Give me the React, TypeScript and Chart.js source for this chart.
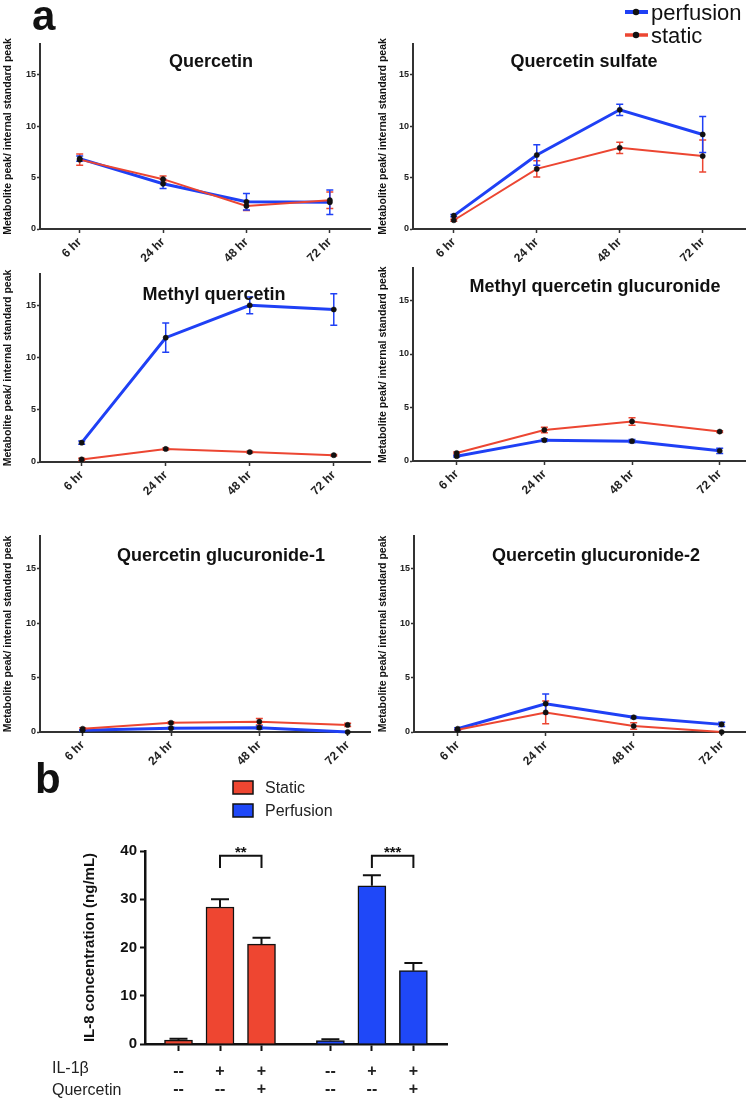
import React, { useEffect, useRef } from 'react';
import { Chart, registerables } from 'chart.js';

Chart.register(...registerables);

const FONT = '"Liberation Sans", Arial, Helvetica, sans-serif';
Chart.defaults.font.family = FONT;

const BLUE = '#1f40f5';
const RED = '#ec4632';
const BAR_RED = '#ee4631';
const BAR_BLUE = '#1f48f8';
const AXIS = '#333333';
const INK = '#111111';

// ---------- Panel a data ----------
const timeLabels = ['6 hr', '24 hr', '48 hr', '72 hr'];
const yTicksA = [0, 5, 10, 15];
const yAxisTitleA = 'Metabolite peak/ internal standard peak';
const seriesNames = ['perfusion', 'static'];

const quercetinPerfusion = [6.85, 4.4, 2.65, 2.6];
const quercetinPerfusionErr = [0.25, 0.45, 0.8, 1.2];
const quercetinStatic = [6.75, 4.85, 2.25, 2.8];
const quercetinStaticErr = [0.55, 0.3, 0.45, 0.8];

const sulfatePerfusion = [1.3, 7.2, 11.6, 9.2];
const sulfatePerfusionErr = [0.1, 1.0, 0.55, 1.75];
const sulfateStatic = [0.85, 5.85, 7.9, 7.1];
const sulfateStaticErr = [0.1, 0.8, 0.55, 1.55];

const methylPerfusion = [1.85, 11.9, 15.0, 14.6];
const methylPerfusionErr = [0.15, 1.4, 0.8, 1.5];
const methylStatic = [0.25, 1.25, 0.95, 0.65];
const methylStaticErr = [0.1, 0.1, 0.08, 0.08];

const methylGlucPerfusion = [0.45, 1.95, 1.85, 0.95];
const methylGlucPerfusionErr = [0.08, 0.12, 0.15, 0.25];
const methylGlucStatic = [0.75, 2.9, 3.7, 2.75];
const methylGlucStaticErr = [0.1, 0.25, 0.35, 0.08];

const gluc1Perfusion = [0.15, 0.35, 0.4, 0.0];
const gluc1PerfusionErr = [0.05, 0.08, 0.15, 0.0];
const gluc1Static = [0.3, 0.85, 0.95, 0.65];
const gluc1StaticErr = [0.1, 0.1, 0.3, 0.15];

const gluc2Perfusion = [0.3, 2.6, 1.35, 0.7];
const gluc2PerfusionErr = [0.1, 0.9, 0.1, 0.2];
const gluc2Static = [0.2, 1.8, 0.55, 0.0];
const gluc2StaticErr = [0.05, 1.05, 0.3, 0.0];

const panelTitles = [
  'Quercetin',
  'Quercetin sulfate',
  'Methyl quercetin',
  'Methyl quercetin glucuronide',
  'Quercetin glucuronide-1',
  'Quercetin glucuronide-2',
];

// ---------- Panel b data ----------
const barLegend = ['Static', 'Perfusion'];
const staticIL8 = [0.8, 28.4, 20.7];
const staticIL8Err = [0.3, 1.6, 1.3];
const perfusionIL8 = [0.7, 32.8, 15.2];
const perfusionIL8Err = [0.3, 2.2, 1.6];
const il1bRow = ['--', '+', '+', '--', '+', '+'];
const quercetinRow = ['--', '--', '+', '--', '--', '+'];
const rowHeaders = ['IL-1β', 'Quercetin'];
const yTicksB = [0, 10, 20, 30, 40];
const yAxisTitleB = 'IL-8 concentration (ng/mL)';
const sigPairs = [
  [1, 2],
  [4, 5],
];
const sigLabels = ['**', '***'];
const SIG_TOP = 39.0;
const SIG_BOTTOM = 36.5;

// ---------- layout (pixels) ----------
const panelData = [
  [quercetinPerfusion, quercetinPerfusionErr, quercetinStatic, quercetinStaticErr],
  [sulfatePerfusion, sulfatePerfusionErr, sulfateStatic, sulfateStaticErr],
  [methylPerfusion, methylPerfusionErr, methylStatic, methylStaticErr],
  [methylGlucPerfusion, methylGlucPerfusionErr, methylGlucStatic, methylGlucStaticErr],
  [gluc1Perfusion, gluc1PerfusionErr, gluc1Static, gluc1StaticErr],
  [gluc2Perfusion, gluc2PerfusionErr, gluc2Static, gluc2StaticErr],
];

type Layout = {
  left: number; top: number; width: number; height: number;
  axisL: number; axisR: number; tickPx: number[]; y0: number; yTop: number;
  titleX: number; titleBase: number;
};

const layouts: Layout[] = [
  { left: 0, top: 0, width: 375, height: 262, axisL: 40, axisR: 373, tickPx: [80, 163, 247, 332], y0: 229, yTop: 44, titleX: 211, titleBase: 67 },
  { left: 375, top: 0, width: 375, height: 262, axisL: 413, axisR: 747, tickPx: [454, 538, 621, 704], y0: 229, yTop: 44, titleX: 584, titleBase: 67 },
  { left: 0, top: 262, width: 375, height: 238, axisL: 40, axisR: 373, tickPx: [82, 167, 252, 336], y0: 462, yTop: 274, titleX: 214, titleBase: 300 },
  { left: 375, top: 262, width: 375, height: 238, axisL: 413, axisR: 748, tickPx: [457, 545, 633, 722], y0: 461, yTop: 265, titleX: 595, titleBase: 292 },
  { left: 0, top: 500, width: 375, height: 270, axisL: 40, axisR: 373, tickPx: [83, 173, 261, 350], y0: 732, yTop: 536, titleX: 221, titleBase: 561 },
  { left: 375, top: 500, width: 375, height: 270, axisL: 414, axisR: 748, tickPx: [458, 547, 636, 724], y0: 732, yTop: 536, titleX: 596, titleBase: 561 },
];

const Y_MAX_A = 18;

const BAR_LAYOUT = { left: 0, top: 745, width: 460, height: 355, axisL: 145, axisR: 447, y0: 1044, yTop: 851, firstBar: 178.5, slot: 41.5, groupGap: 3.66 };

// ---------- plugins ----------
function errorBarPlugin(capHalf: number, upperOnly: boolean, after: boolean, color?: string, width?: number) {
  const draw = (chart: any) => {
    const ctx = chart.ctx;
    const ys = chart.scales.y;
    chart.data.datasets.forEach((ds: any, i: number) => {
      const meta = chart.getDatasetMeta(i);
      const errs: number[] = ds.errors || [];
      meta.data.forEach((el: any, j: number) => {
        const e = errs[j] || 0;
        if (!e) return;
        const v = ds.data[j].y;
        const x = el.x;
        const yHi = ys.getPixelForValue(v + e);
        const yLo = upperOnly ? ys.getPixelForValue(v) : ys.getPixelForValue(v - e);
        ctx.save();
        ctx.strokeStyle = color || ds.borderColor;
        ctx.lineWidth = width || 1.5;
        ctx.beginPath();
        ctx.moveTo(x, yLo);
        ctx.lineTo(x, yHi);
        ctx.moveTo(x - capHalf, yHi);
        ctx.lineTo(x + capHalf, yHi);
        if (!upperOnly) {
          ctx.moveTo(x - capHalf, yLo);
          ctx.lineTo(x + capHalf, yLo);
        }
        ctx.stroke();
        ctx.restore();
      });
    });
  };
  return after
    ? { id: 'errbarsAfter', afterDatasetsDraw: draw }
    : { id: 'errbarsBefore', beforeDatasetsDraw: draw };
}

type TextItem = { text: string; x: number; y: number; font: string; color?: string; align?: CanvasTextAlign };

function overlayPlugin(items: TextItem[], extra?: (ctx: CanvasRenderingContext2D, chart: any) => void) {
  return {
    id: 'overlay',
    afterDraw(chart: any) {
      const ctx = chart.ctx as CanvasRenderingContext2D;
      ctx.save();
      if (extra) extra(ctx, chart);
      items.forEach((it) => {
        ctx.font = it.font;
        ctx.fillStyle = it.color || INK;
        ctx.textAlign = it.align || 'left';
        ctx.textBaseline = 'alphabetic';
        ctx.fillText(it.text, it.x, it.y);
      });
      ctx.restore();
    },
  };
}

// ---------- configs ----------
function lineConfig(idx: number) {
  const lay = layouts[idx];
  const [perf, perfErr, stat, statErr] = panelData[idx];
  const spacing = (lay.tickPx[3] - lay.tickPx[0]) / 3;
  const xMin = -(lay.tickPx[0] - lay.axisL) / spacing;
  const xMax = timeLabels.length - 1 + (lay.axisR - lay.tickPx[3]) / spacing;
  const toPts = (arr: number[]) => arr.map((v, i) => ({ x: i, y: v }));
  const pointStyle = {
    pointRadius: 2.6,
    pointBackgroundColor: '#111',
    pointBorderColor: '#111',
    pointBorderWidth: 0.5,
    tension: 0,
    fill: false,
    clip: false as any,
  };
  const items: TextItem[] = [
    { text: panelTitles[idx], x: lay.titleX - lay.left, y: lay.titleBase - lay.top, font: `bold 18px ${FONT}`, align: 'center' },
  ];
  if (idx === 0) items.push({ text: 'a', x: 32, y: 30, font: `bold 42px ${FONT}` });
  let extra: ((ctx: CanvasRenderingContext2D) => void) | undefined;
  if (idx === 1) {
    const lx = 625 - lay.left;
    items.push({ text: seriesNames[0], x: 651 - lay.left, y: 20, font: `22px ${FONT}`, color: '#111' });
    items.push({ text: seriesNames[1], x: 651 - lay.left, y: 43, font: `22px ${FONT}`, color: '#111' });
    extra = (ctx) => {
      [[BLUE, 12, 4], [RED, 35, 3.5]].forEach(([c, y, w]) => {
        ctx.strokeStyle = c as string;
        ctx.lineWidth = w as number;
        ctx.beginPath();
        ctx.moveTo(lx, y as number);
        ctx.lineTo(lx + 23, y as number);
        ctx.stroke();
        ctx.fillStyle = '#111';
        ctx.beginPath();
        ctx.arc(lx + 11, y as number, 3.2, 0, Math.PI * 2);
        ctx.fill();
      });
    };
  }
  return {
    type: 'line',
    data: {
      datasets: [
        { label: seriesNames[1], data: toPts(stat), errors: statErr, borderColor: RED, backgroundColor: RED, borderWidth: 2, ...pointStyle },
        { label: seriesNames[0], data: toPts(perf), errors: perfErr, borderColor: BLUE, backgroundColor: BLUE, borderWidth: 3, ...pointStyle },
      ],
    },
    options: {
      responsive: false,
      maintainAspectRatio: false,
      animation: false,
      events: [],
      layout: { padding: { top: lay.yTop - lay.top, right: lay.left + lay.width - lay.axisR, left: 0, bottom: 0 } },
      plugins: { legend: { display: false }, tooltip: { enabled: false } },
      scales: {
        x: {
          type: 'linear',
          min: xMin,
          max: xMax,
          offset: false,
          afterBuildTicks: (s: any) => { s.ticks = timeLabels.map((_, i) => ({ value: i })); },
          afterFit: (s: any) => { s.height = lay.top + lay.height - lay.y0; },
          ticks: {
            stepSize: 1,
            autoSkip: false,
            minRotation: 45,
            maxRotation: 45,
            padding: 2,
            color: '#222',
            font: { size: 12, weight: 'bold' },
            callback: (v: number) => timeLabels[v] ?? '',
          },
          grid: { offset: false, drawOnChartArea: false, drawTicks: true, tickLength: 4, tickWidth: 1.5, tickColor: AXIS },
          border: { display: true, color: AXIS, width: 2 },
        },
        y: {
          min: 0,
          max: Y_MAX_A,
          afterBuildTicks: (s: any) => { s.ticks = yTicksA.map((v) => ({ value: v })); },
          afterFit: (s: any) => { s.width = lay.axisL - lay.left; },
          ticks: { stepSize: 5, padding: 1, color: '#222', font: { size: 9, weight: 'bold' } },
          grid: { drawOnChartArea: false, drawTicks: true, tickLength: 3, tickWidth: 1.5, tickColor: AXIS },
          border: { display: true, color: AXIS, width: 2 },
          title: {
            display: true,
            text: yAxisTitleA,
            color: INK,
            font: { size: 10.5, weight: 'bold' },
            padding: { top: 2, bottom: 0 },
          },
        },
      },
    },
    plugins: [errorBarPlugin(3.5, false, false), overlayPlugin(items, extra)],
  };
}

function barConfig() {
  const L = BAR_LAYOUT;
  const positions = [
    ...staticIL8.map((_, i) => i),
    ...perfusionIL8.map((_, i) => L.groupGap + i),
  ];
  const xMin = -(L.firstBar - L.axisL) / L.slot;
  const lastPx = L.firstBar + positions[positions.length - 1] * L.slot;
  const xMax = positions[positions.length - 1] + (L.axisR - lastPx) / L.slot;
  const barStyle = { borderColor: '#111', borderWidth: 1.5, barThickness: 28, maxBarThickness: 28, grouped: false, borderSkipped: 'bottom' };
  const items: TextItem[] = [
    { text: 'b', x: 35, y: 793 - L.top, font: `bold 42px ${FONT}` },
    { text: barLegend[0], x: 265, y: 793 - L.top, font: `16px ${FONT}`, color: '#222' },
    { text: barLegend[1], x: 265, y: 816 - L.top, font: `16px ${FONT}`, color: '#222' },
    { text: rowHeaders[0], x: 52, y: 1073 - L.top, font: `16px ${FONT}`, color: '#222' },
    { text: rowHeaders[1], x: 52, y: 1095 - L.top, font: `16px ${FONT}`, color: '#222' },
  ];
  const extra = (ctx: CanvasRenderingContext2D, chart: any) => {
    [[BAR_RED, 781], [BAR_BLUE, 804]].forEach(([c, y]) => {
      ctx.fillStyle = c as string;
      ctx.fillRect(233, (y as number) - L.top, 20, 13);
      ctx.strokeStyle = '#111';
      ctx.lineWidth = 1.5;
      ctx.strokeRect(233, (y as number) - L.top, 20, 13);
    });
    const xs = chart.scales.x;
    const ys = chart.scales.y;
    sigPairs.forEach(([a, b], k) => {
      const x1 = xs.getPixelForValue(positions[a]);
      const x2 = xs.getPixelForValue(positions[b]);
      const yT = ys.getPixelForValue(SIG_TOP);
      const yB = ys.getPixelForValue(SIG_BOTTOM);
      ctx.strokeStyle = '#111';
      ctx.lineWidth = 2;
      ctx.beginPath();
      ctx.moveTo(x1, yB);
      ctx.lineTo(x1, yT);
      ctx.lineTo(x2, yT);
      ctx.lineTo(x2, yB);
      ctx.stroke();
      ctx.font = `bold 15px ${FONT}`;
      ctx.fillStyle = '#111';
      ctx.textAlign = 'center';
      ctx.textBaseline = 'alphabetic';
      ctx.fillText(sigLabels[k], (x1 + x2) / 2, yT + 1);
    });
  };
  return {
    type: 'bar',
    data: {
      datasets: [
        { label: barLegend[0], data: staticIL8.map((v, i) => ({ x: positions[i], y: v })), errors: staticIL8Err, backgroundColor: BAR_RED, ...barStyle },
        { label: barLegend[1], data: perfusionIL8.map((v, i) => ({ x: positions[staticIL8.length + i], y: v })), errors: perfusionIL8Err, backgroundColor: BAR_BLUE, ...barStyle },
      ],
    },
    options: {
      responsive: false,
      maintainAspectRatio: false,
      animation: false,
      events: [],
      layout: { padding: { top: L.yTop - L.top, right: L.left + L.width - L.axisR, left: 0, bottom: 0 } },
      plugins: { legend: { display: false }, tooltip: { enabled: false } },
      scales: {
        x: {
          type: 'linear',
          min: xMin,
          max: xMax,
          offset: false,
          afterBuildTicks: (s: any) => { s.ticks = positions.map((v) => ({ value: v })); },
          afterFit: (s: any) => { s.height = L.top + L.height - L.y0; },
          ticks: {
            autoSkip: false,
            maxRotation: 0,
            minRotation: 0,
            padding: 12,
            color: '#222',
            font: { size: 16, weight: 'bold', lineHeight: '18px' },
            callback: (_v: number, i: number) => [il1bRow[i], quercetinRow[i]],
          },
          grid: { offset: false, drawOnChartArea: false, drawTicks: true, tickLength: 7, tickWidth: 2, tickColor: '#111' },
          border: { display: true, color: '#111', width: 2.5 },
        },
        y: {
          min: 0,
          max: 40,
          afterBuildTicks: (s: any) => { s.ticks = yTicksB.map((v) => ({ value: v })); },
          afterFit: (s: any) => { s.width = L.axisL - L.left; },
          ticks: { padding: 3, color: '#111', font: { size: 15, weight: 'bold' } },
          grid: { drawOnChartArea: false, drawTicks: true, tickLength: 5, tickWidth: 2, tickColor: '#111' },
          border: { display: true, color: '#111', width: 2.5 },
          title: {
            display: true,
            text: yAxisTitleB,
            color: INK,
            font: { size: 15, weight: 'bold' },
            padding: { top: 81, bottom: 0 },
          },
        },
      },
    },
    plugins: [errorBarPlugin(9, true, true, '#111', 2), overlayPlugin(items, extra)],
  };
}

function ChartBox({ left, top, width, height, build }: { left: number; top: number; width: number; height: number; build: () => any }) {
  const ref = useRef<HTMLCanvasElement>(null);
  useEffect(() => {
    if (!ref.current) return;
    const chart = new Chart(ref.current, build());
    return () => chart.destroy();
  }, []);
  return (
    <div style={{ position: 'absolute', left, top, width, height }}>
      <canvas ref={ref} width={width} height={height} style={{ width, height, display: 'block' }} />
    </div>
  );
}

export default function App() {
  return (
    <div style={{ position: 'absolute', left: 0, top: 0, width: 750, height: 1100, background: '#fff', overflow: 'hidden' }}>
      {layouts.map((lay, i) => (
        <ChartBox key={i} left={lay.left} top={lay.top} width={lay.width} height={lay.height} build={() => lineConfig(i)} />
      ))}
      <ChartBox left={BAR_LAYOUT.left} top={BAR_LAYOUT.top} width={BAR_LAYOUT.width} height={BAR_LAYOUT.height} build={barConfig} />
    </div>
  );
}
